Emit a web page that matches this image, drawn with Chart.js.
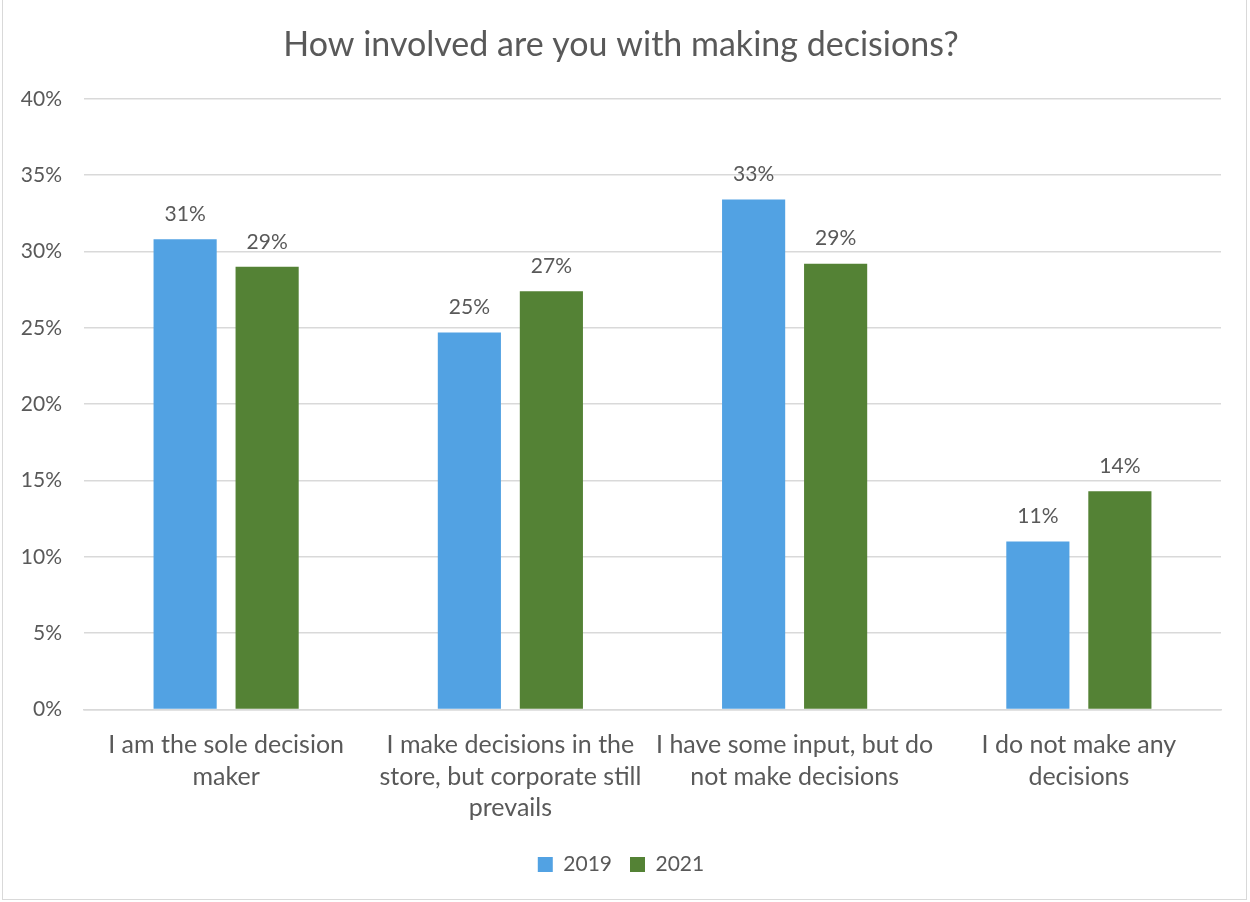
<!DOCTYPE html>
<html>
<head>
<meta charset="utf-8">
<script src="https://cdn.jsdelivr.net/npm/chart.js@4"></script>
<style>
  body { margin: 0; background: #fff; }
  .chart-box { position: absolute; left: 2px; top: 0; width: 1245px; height: 900px; border: 1px solid #d9d9d9; border-top: none; box-sizing: border-box; }
  canvas { position: absolute; left: -2px; top: 0; }
</style>
</head>
<body>
<div class="chart-box"><canvas id="chart" width="1250" height="902"></canvas></div>
<script>
// data
const categories = [
  ["I am the sole decision", "maker"],
  ["I make decisions in the", "store, but corporate still", "prevails"],
  ["I have some input, but do", "not make decisions"],
  ["I do not make any", "decisions"],
];
const values2019 = [30.8, 24.7, 33.4, 11.0];
const values2021 = [29.0, 27.4, 29.2, 14.3];
const yTicks = [0, 5, 10, 15, 20, 25, 30, 35, 40];

const textColor = "#595959";
const fontFamily = "Lato, 'Open Sans', sans-serif";

// labels above each bar
const barLabels = {
  id: "barLabels",
  afterDatasetsDraw(chart) {
    const ctx = chart.ctx;
    ctx.save();
    ctx.fillStyle = textColor;
    ctx.font = "21px " + fontFamily;
    ctx.textAlign = "center";
    ctx.textBaseline = "middle";
    chart.data.datasets.forEach((ds, i) => {
      chart.getDatasetMeta(i).data.forEach((bar, j) => {
        ctx.fillText(Math.round(ds.data[j]) + "%", bar.x, bar.y - 25);
      });
    });
    ctx.restore();
  },
};

new Chart(document.getElementById("chart"), {
  type: "bar",
  data: {
    labels: categories,
    datasets: [
      { label: "2019", data: values2019, backgroundColor: "#52a2e3" },
      { label: "2021", data: values2021, backgroundColor: "#548235" },
    ],
  },
  options: {
    responsive: false,
    animation: false,
    layout: { padding: { left: 20, right: 30, top: 16, bottom: 17 } },
    datasets: { bar: { categoryPercentage: 0.577, barPercentage: 0.77 } },
    plugins: {
      title: {
        display: true,
        text: "How involved are you with making decisions?",
        color: textColor,
        font: { family: fontFamily, size: 34, weight: "normal" },
        padding: { top: 9, bottom: 33 },
      },
      legend: {
        position: "bottom",
        labels: {
          color: textColor,
          font: { family: fontFamily, size: 21 },
          boxWidth: 15,
          boxHeight: 15,
          padding: 18,
        },
      },
      tooltip: { enabled: false },
    },
    scales: {
      x: {
        grid: { display: false },
        border: { color: "#d9d9d9", width: 1.5 },
        ticks: {
          color: textColor,
          font: { family: fontFamily, size: 25, lineHeight: 1.26 },
          padding: 12,
          maxRotation: 0,
        },
      },
      y: {
        min: 0,
        max: 40,
        afterBuildTicks: (axis) => { axis.ticks = yTicks.map((v) => ({ value: v })); },
        afterFit: (axis) => { axis.width = 63; },
        grid: { color: "#d9d9d9", lineWidth: 1.5, drawTicks: false },
        border: { display: false },
        ticks: {
          color: textColor,
          font: { family: fontFamily, size: 21 },
          padding: 22,
          callback: (v) => v + "%",
        },
      },
    },
  },
  plugins: [barLabels],
});
</script>
</body>
</html>
